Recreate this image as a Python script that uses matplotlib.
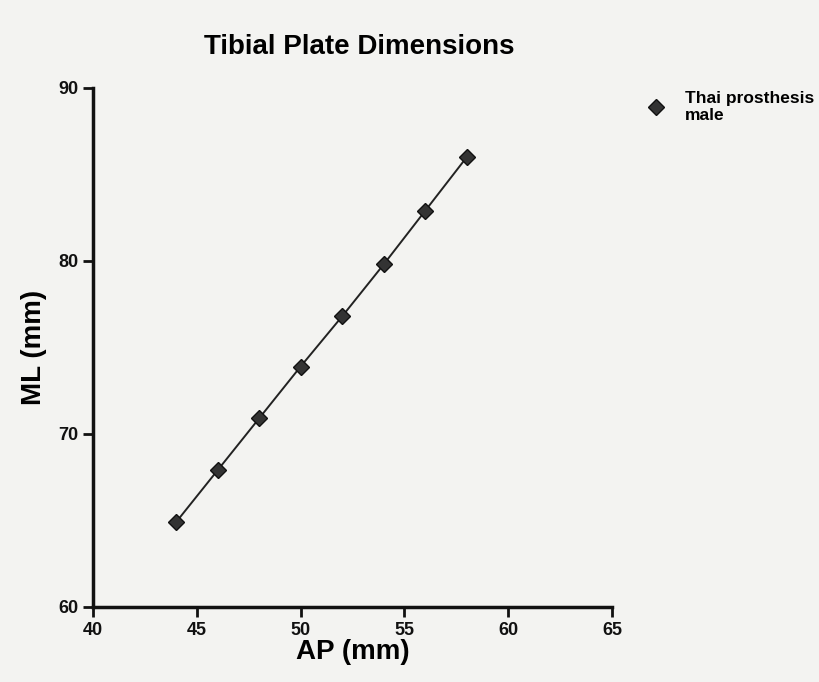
import matplotlib
matplotlib.use("Agg")
import matplotlib.pyplot as plt

plt.rcParams['font.family'] = ['Liberation Sans', 'DejaVu Sans']
plt.rcParams['font.weight'] = 'bold'

# values
ap_mm = [44, 46, 48, 50, 52, 54, 56, 58]
ml_mm = [64.9, 67.9, 70.9, 73.9, 76.8, 79.8, 82.9, 86.0]
series_name = "Thai prosthesis\nmale"
x_ticks = [40, 45, 50, 55, 60, 65]
y_ticks = [60, 70, 80, 90]


def main():
    fig = plt.figure(figsize=(8.2, 6.82), dpi=100, facecolor="#f3f3f1")
    ax = fig.add_axes([0.1134, 0.110, 0.633, 0.761])
    ax.set_facecolor("#f3f3f1")

    # connecting line, then the diamond markers (legend shows marker only)
    ax.plot(ap_mm, ml_mm, color="#222222", linewidth=1.4)
    ax.plot(ap_mm, ml_mm, linestyle="none", marker="D", markersize=8,
            markerfacecolor="#333333", markeredgecolor="#111111",
            label=series_name)

    ax.set_xlim(40, 65)
    ax.set_ylim(60, 90)
    ax.set_xticks(x_ticks)
    ax.set_yticks(y_ticks)

    for side in ["top", "right"]:
        ax.spines[side].set_visible(False)
    for side in ["left", "bottom"]:
        ax.spines[side].set_linewidth(2.5)
        ax.spines[side].set_color("#111111")

    ax.tick_params(axis="both", direction="out", length=7, width=2,
                   labelsize=13, colors="#111111")
    for lbl in ax.get_xticklabels() + ax.get_yticklabels():
        lbl.set_fontweight("bold")

    ax.set_xlabel("AP (mm)", fontsize=20, fontweight="bold", labelpad=0)
    ax.set_ylabel("ML (mm)", fontsize=20, fontweight="bold", labelpad=8)
    fig.text(0.438, 0.931, "Tibial Plate Dimensions", fontsize=20,
             fontweight="bold", ha="center", va="center")

    fig.legend(loc="upper left", bbox_to_anchor=(0.772, 0.89), frameon=False,
               handlelength=0.8, handletextpad=1.3, numpoints=1,
               prop={"weight": "bold", "size": 12.5})

    fig.savefig("out.png", dpi=100, facecolor=fig.get_facecolor())


if __name__ == "__main__":
    main()
